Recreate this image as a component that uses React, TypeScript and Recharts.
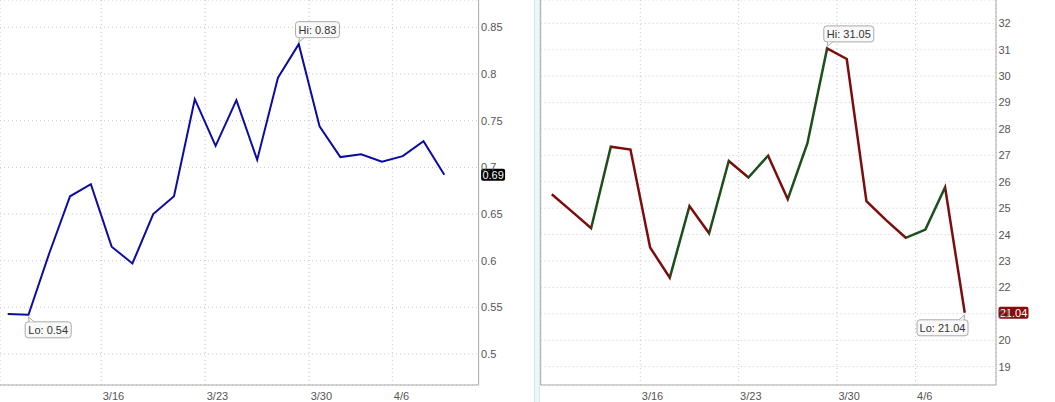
import React from 'react';
import { LineChart, Line, XAxis, YAxis, CartesianGrid, ReferenceDot, ReferenceLine } from 'recharts';

// trading days 3/9 .. 4/8 (Good Friday skipped)
const days = ['3/9', '3/10', '3/11', '3/12', '3/13', '3/16', '3/17', '3/18', '3/19', '3/20', '3/23', '3/24', '3/25', '3/26', '3/27', '3/30', '3/31', '4/1', '4/2', '4/6', '4/7', '4/8'];
const ratioValues = [0.543, 0.542, 0.608, 0.669, 0.682, 0.615, 0.597, 0.65, 0.669, 0.773, 0.723, 0.772, 0.708, 0.796, 0.832, 0.744, 0.711, 0.714, 0.706, 0.712, 0.728, 0.692];
const priceValues = [25.53, 24.89, 24.24, 27.33, 27.22, 23.51, 22.37, 25.08, 24.05, 26.79, 26.16, 26.99, 25.34, 27.46, 31.05, 30.65, 25.27, 24.55, 23.88, 24.19, 25.79, 21.04];

// week separators sit between Friday and Monday
const weekTicks = [4.5, 9.5, 14.5, 18.5];
const weekLabels = ['3/16', '3/23', '3/30', '4/6'];
const ratioTicks = [0.5, 0.55, 0.6, 0.65, 0.7, 0.75, 0.8, 0.85];
const priceTicks = [19, 20, 21, 22, 23, 24, 25, 26, 27, 28, 29, 30, 31, 32];

const FONT = 'Arial, "Liberation Sans", sans-serif';
const GRID = '#c8c8c8';
const BORDER = '#aaaaaa';
const UP = '#1b4f1b';
const DOWN = '#7d0d0d';

const data = days.map((d, i) => ({ i, day: d, ratio: ratioValues[i], price: priceValues[i] }));

const last = data.length - 1;
const argMax = (arr: number[]) => arr.indexOf(Math.max(...arr));
const argMin = (arr: number[]) => arr.indexOf(Math.min(...arr));

// colour stops for the up/down segments of the price line
const segStops: { offset: number; color: string }[] = [];
for (let k = 0; k < last; k++) {
  const c = priceValues[k + 1] >= priceValues[k] ? UP : DOWN;
  segStops.push({ offset: k / last, color: c });
  segStops.push({ offset: (k + 1) / last, color: c });
}

const WeekTick = (props: any) => {
  const { x, y, payload } = props;
  const idx = weekTicks.indexOf(payload.value);
  return (
    <text x={x + 1.5} y={y + 13} textAnchor="start" fill="#555" fontSize={11} fontFamily={FONT}>
      {weekLabels[idx]}
    </text>
  );
};

interface NoteProps {
  cx: number;
  cy: number;
  text: string;
  w: number;
  kind: 'hi' | 'lo';
  alignRight?: boolean;
}

// Hi / Lo call-out box with a small tail pointing at the point
const Note = ({ cx, cy, text, w, kind, alignRight }: NoteProps) => {
  const h = 16;
  const left = alignRight ? cx + 3.3 - w : cx - 3.3;
  const top = kind === 'hi' ? cy - 6.5 - h : cy + 7;
  const edgeY = kind === 'hi' ? top + h : top;
  const tipY = kind === 'hi' ? cy - 2 : cy + 2;
  const a = alignRight ? left + w - 9 : left + 4;
  const b = alignRight ? left + w - 4 : left + 9;
  return (
    <g>
      <rect x={left} y={top} width={w} height={h} rx={3} fill="#f9f9f9" stroke={BORDER} />
      <polygon points={`${a},${edgeY} ${cx},${tipY} ${b},${edgeY}`} fill="#f9f9f9" />
      <polyline points={`${a},${edgeY} ${cx},${tipY} ${b},${edgeY}`} fill="none" stroke={BORDER} />
      <text x={left + w / 2} y={top + h / 2} dy="0.36em" textAnchor="middle" fill="#333" fontSize={11} fontFamily={FONT}>
        {text}
      </text>
    </g>
  );
};

const Badge = ({ cx, cy, text, w, color }: { cx: number; cy: number; text: string; w: number; color: string }) => (
  <g>
    <rect x={cx + 2.5} y={cy - 6} width={w} height={12} rx={2} fill={color} />
    <text x={cx + 2.5 + w / 2} y={cy} dy="0.36em" textAnchor="middle" fill="#fff" fontSize={11} fontFamily={FONT}>
      {text}
    </text>
  </g>
);

const RatioChart = () => {
  const xDom: [number, number] = [-0.37, 22.65];
  const hi = argMax(ratioValues);
  const lo = argMin(ratioValues);
  return (
    <LineChart width={530} height={402} data={data} margin={{ top: 0, right: 0, bottom: 0, left: 0 }}>
      <CartesianGrid stroke={GRID} strokeDasharray="1 3" />
      <XAxis
        dataKey="i"
        type="number"
        domain={xDom}
        allowDataOverflow
        ticks={weekTicks}
        tick={<WeekTick />}
        tickLine={false}
        tickSize={0}
        height={17}
        axisLine={{ stroke: BORDER }}
      />
      <YAxis
        orientation="right"
        type="number"
        domain={[0.4668, 0.8793]}
        allowDataOverflow
        ticks={ratioTicks}
        width={51.4}
        tickLine={false}
        tickSize={0}
        tickMargin={2.5}
        axisLine={{ stroke: BORDER }}
        tick={{ fill: '#555', fontSize: 11, fontFamily: FONT }}
      />
      <Line type="linear" dataKey="ratio" stroke="#0c0ca3" strokeWidth={2} dot={false} activeDot={false} isAnimationActive={false} />
      <ReferenceDot x={hi} y={ratioValues[hi]} r={0} shape={(p: any) => <Note cx={p.cx} cy={p.cy} text={`Hi: ${ratioValues[hi].toFixed(2)}`} w={44} kind="hi" />} />
      <ReferenceDot x={lo} y={ratioValues[lo]} r={0} shape={(p: any) => <Note cx={p.cx} cy={p.cy} text={`Lo: ${ratioValues[lo].toFixed(2)}`} w={46} kind="lo" />} />
      <ReferenceDot x={xDom[1]} y={ratioValues[last]} r={0} shape={(p: any) => <Badge cx={p.cx} cy={p.cy} text={ratioValues[last].toFixed(2)} w={24} color="#000" />} />
    </LineChart>
  );
};

const PriceChart = () => {
  const xDom: [number, number] = [-0.565, 22.59];
  const hi = argMax(priceValues);
  const lo = argMin(priceValues);
  return (
    <LineChart width={525} height={402} data={data} margin={{ top: 0, right: 0, bottom: 0, left: 10.7 }}>
      <defs>
        <linearGradient id="updown" x1="0" y1="0" x2="1" y2="0">
          {segStops.map((s, k) => (
            <stop key={k} offset={s.offset} stopColor={s.color} />
          ))}
        </linearGradient>
      </defs>
      <CartesianGrid stroke={GRID} strokeDasharray="1 3" />
      <XAxis
        dataKey="i"
        type="number"
        domain={xDom}
        allowDataOverflow
        ticks={weekTicks}
        tick={<WeekTick />}
        tickLine={false}
        tickSize={0}
        height={17}
        axisLine={{ stroke: BORDER }}
      />
      <YAxis
        orientation="right"
        type="number"
        domain={[18.306, 32.883]}
        allowDataOverflow
        ticks={priceTicks}
        width={59}
        tickLine={false}
        tickSize={0}
        tickMargin={2.5}
        axisLine={{ stroke: BORDER }}
        tick={{ fill: '#555', fontSize: 11, fontFamily: FONT }}
      />
      <ReferenceLine x={xDom[0]} stroke={BORDER} />
      <Line type="linear" dataKey="price" stroke="url(#updown)" strokeWidth={2.5} dot={false} activeDot={false} isAnimationActive={false} />
      <ReferenceDot x={hi} y={priceValues[hi]} r={0} shape={(p: any) => <Note cx={p.cx} cy={p.cy} text={`Hi: ${priceValues[hi].toFixed(2)}`} w={50} kind="hi" />} />
      <ReferenceDot x={lo} y={priceValues[lo]} r={0} shape={(p: any) => <Note cx={p.cx} cy={p.cy} text={`Lo: ${priceValues[lo].toFixed(2)}`} w={51} kind="lo" alignRight />} />
      <ReferenceDot x={xDom[1]} y={priceValues[last]} r={0} shape={(p: any) => <Badge cx={p.cx} cy={p.cy} text={priceValues[last].toFixed(2)} w={30} color="#8a0b0b" />} />
    </LineChart>
  );
};

export default function App() {
  return (
    <div style={{ position: 'absolute', left: 0, top: 0, width: 1055, height: 402, background: '#fff', overflow: 'hidden' }}>
      <div style={{ position: 'absolute', left: 0, top: 0 }}>
        <RatioChart />
      </div>
      <div style={{ position: 'absolute', left: 530, top: 0 }}>
        <PriceChart />
      </div>
      {/* pale panel divider */}
      <div style={{ position: 'absolute', left: 534, top: 0, width: 1, height: 402, background: '#d3e8ef' }} />
      <div style={{ position: 'absolute', left: 535, top: 0, width: 4, height: 402, background: '#eef6f9' }} />
      <div style={{ position: 'absolute', left: 539, top: 0, width: 1, height: 402, background: '#d3e8ef' }} />
    </div>
  );
}
